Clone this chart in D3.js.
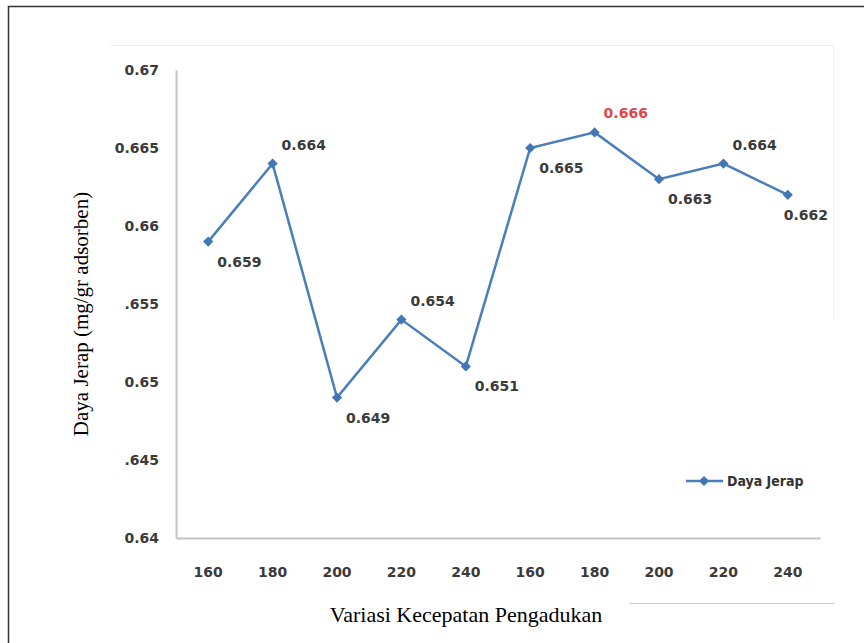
<!DOCTYPE html>
<html>
<head>
<meta charset="utf-8">
<title>Daya Jerap</title>
<script src="https://cdn.jsdelivr.net/npm/d3@7"></script>
<style>
  body { margin: 0; background: #fff; }
  svg { display: block; }
</style>
</head>
<body>
<script>
var categories = ["160", "180", "200", "220", "240", "160", "180", "200", "220", "240"];
var values = [0.659, 0.664, 0.649, 0.654, 0.651, 0.665, 0.666, 0.663, 0.664, 0.662];
var labelSide = ["below", "above", "below", "above", "below", "below", "above", "below", "above", "below"];
var highlight = 6; // red label
var yTicks = [0.64, 0.645, 0.65, 0.655, 0.66, 0.665, 0.67];
var yTickLabels = ["0.64", ".645", "0.65", ".655", "0.66", "0.665", "0.67"];

var width = 864, height = 643;
var svg = d3.select("body").append("svg").attr("width", width).attr("height", height);

// outer frame (left + top only)
svg.append("path")
  .attr("d", "M8.5," + height + "V6.5H" + width)
  .attr("fill", "none").attr("stroke", "#333").attr("stroke-width", 1.5);

// faint chart-area edges
svg.append("line").attr("x1", 110).attr("x2", 833).attr("y1", 45.5).attr("y2", 45.5)
  .attr("stroke", "#eee").attr("stroke-width", 1);
svg.append("line").attr("x1", 833.5).attr("x2", 833.5).attr("y1", 45).attr("y2", 320)
  .attr("stroke", "#f2f2f2").attr("stroke-width", 1);
svg.append("line").attr("x1", 630).attr("x2", 835).attr("y1", 603.5).attr("y2", 603.5)
  .attr("stroke", "#c8c8c8").attr("stroke-width", 1);

var x = d3.scaleBand().domain(d3.range(values.length)).range([176, 820]);
var y = d3.scaleLinear().domain([0.64, 0.67]).range([538, 70]);

// axes
var yAxis = svg.append("g").attr("transform", "translate(176,0)")
  .call(d3.axisLeft(y).tickValues(yTicks).tickSize(0).tickPadding(17)
    .tickFormat(function(d, i) { return yTickLabels[i]; }));
var xAxis = svg.append("g").attr("transform", "translate(0,538)")
  .call(d3.axisBottom(x).tickSize(0).tickPadding(29)
    .tickFormat(function(d) { return categories[d]; }));

[yAxis, xAxis].forEach(function(g) {
  g.select(".domain").attr("stroke", "#c3c3c3").attr("stroke-width", 2);
  g.selectAll("text")
    .attr("font-family", "DejaVu Sans, Verdana, sans-serif")
    .attr("font-weight", "bold")
    .attr("font-size", 14)
    .attr("fill", "#3a3a3a");
});

// line
var cx = function(d, i) { return x(i) + x.bandwidth() / 2; };
var line = d3.line().x(cx).y(function(d) { return y(d); });

svg.append("path").datum(values)
  .attr("d", line)
  .attr("fill", "none")
  .attr("stroke", "#4a7ebb")
  .attr("stroke-width", 2.5);

var marker = d3.symbol().type(d3.symbolSquare).size(52);
svg.selectAll(".pt").data(values).enter().append("path")
  .attr("class", "pt")
  .attr("d", marker)
  .attr("transform", function(d, i) { return "translate(" + cx(d, i) + "," + y(d) + ") rotate(45)"; })
  .attr("fill", "#4276b5");

// data labels
svg.selectAll(".lbl").data(values).enter().append("text")
  .attr("class", "lbl")
  .attr("x", function(d, i) { return cx(d, i) + (i === values.length - 1 ? -4 : 9); })
  .attr("y", function(d, i) { return y(d) + (labelSide[i] === "above" ? -19 : 20); })
  .attr("dy", "0.35em")
  .attr("font-family", "DejaVu Sans, Verdana, sans-serif")
  .attr("font-weight", "bold")
  .attr("font-size", 14)
  .attr("fill", function(d, i) { return i === highlight ? "#e04848" : "#3a3a3a"; })
  .text(function(d) { return d3.format(".3f")(d); });

// legend
var lg = svg.append("g").attr("transform", "translate(686,481)");
lg.append("line").attr("x1", 0).attr("x2", 37).attr("stroke", "#4a7ebb").attr("stroke-width", 2.5);
lg.append("path").attr("d", marker).attr("transform", "translate(18,0) rotate(45)").attr("fill", "#4276b5");
lg.append("text").attr("x", 41).attr("dy", "0.35em")
  .attr("font-family", "DejaVu Sans Condensed, sans-serif")
  .attr("font-weight", "bold")
  .attr("font-size", 14)
  .attr("fill", "#333")
  .text("Daya Jerap");

// axis titles
svg.append("text")
  .attr("x", 466).attr("y", 622)
  .attr("text-anchor", "middle")
  .attr("font-family", "Liberation Serif, Times New Roman, serif")
  .attr("font-size", 22)
  .attr("fill", "#000")
  .text("Variasi Kecepatan Pengadukan");

svg.append("text")
  .attr("transform", "translate(88,314) rotate(-90)")
  .attr("text-anchor", "middle")
  .attr("font-family", "Liberation Serif, Times New Roman, serif")
  .attr("font-size", 21)
  .attr("fill", "#000")
  .text("Daya Jerap (mg/gr adsorben)");
</script>
</body>
</html>
